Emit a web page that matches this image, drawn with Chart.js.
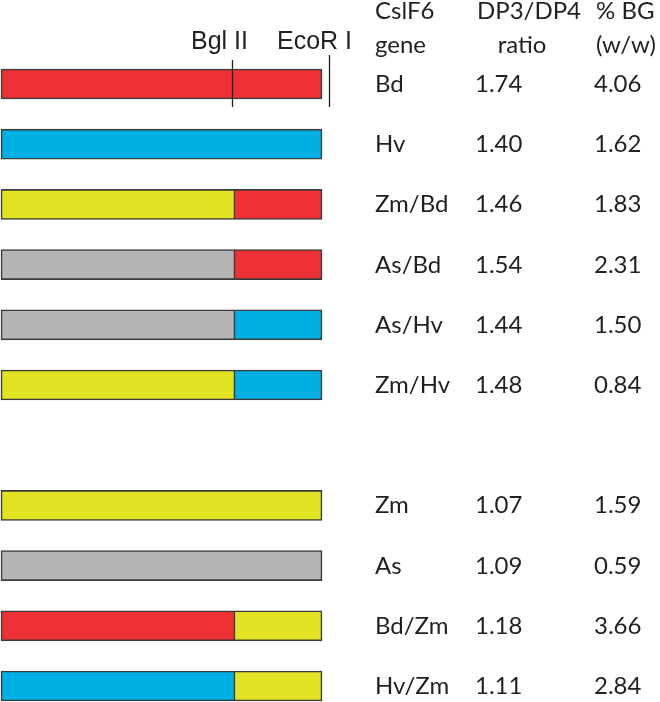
<!DOCTYPE html>
<html>
<head>
<meta charset="utf-8">
<script src="https://cdn.jsdelivr.net/npm/chart.js@4"></script>
<style>
  html, body { margin: 0; padding: 0; background: #fff; }
  canvas { display: block; }
</style>
</head>
<body>
<canvas id="chart" width="660" height="702"></canvas>
<script>
// rows, top to bottom ('' is the blank spacer row)
const genes  = ['Bd', 'Hv', 'Zm/Bd', 'As/Bd', 'As/Hv', 'Zm/Hv', '', 'Zm', 'As', 'Bd/Zm', 'Hv/Zm'];
const ratios = ['1.74', '1.40', '1.46', '1.54', '1.44', '1.48', '', '1.07', '1.09', '1.18', '1.11'];
const bgPct  = ['4.06', '1.62', '1.83', '2.31', '1.50', '0.84', '', '1.59', '0.59', '3.66', '2.84'];

// gene length in % : part before the Bgl II site and part after it
const leftPart  = [100, 100, 72.9, 72.9, 72.9, 72.9, null, 100, 100, 72.9, 72.9];
const rightPart = [null, null, 27.1, 27.1, 27.1, 27.1, null, null, null, 27.1, 27.1];

const leftSpecies  = ['Bd', 'Hv', 'Zm', 'As', 'As', 'Zm', '', 'Zm', 'As', 'Bd', 'Hv'];
const rightSpecies = ['', '', 'Bd', 'Bd', 'Hv', 'Hv', '', '', '', 'Zm', 'Zm'];

// restriction sites on the gene (%)
const siteNames = ['Bgl II', 'EcoR I'];
const sitePos   = [72.0, 102.2];

const speciesColor = { Bd: '#ee3135', Hv: '#00afe4', Zm: '#e2e423', As: '#b5b5b5', '': '#ffffff' };
const edge = '#3b3b3b';
const ink = '#231f20';

const tablePlugin = {
  id: 'table',
  afterDraw(chart) {
    const ctx = chart.ctx;
    const x = chart.scales.x, y = chart.scales.y;
    ctx.save();

    // restriction site marks on the first gene
    const y0 = y.getPixelForValue(0);
    ctx.strokeStyle = '#222';
    ctx.lineWidth = 1.3;
    ctx.beginPath();
    ctx.moveTo(Math.round(x.getPixelForValue(sitePos[0])) + 0.5, y0 - 24);
    ctx.lineTo(Math.round(x.getPixelForValue(sitePos[0])) + 0.5, y0 + 23);
    ctx.moveTo(Math.round(x.getPixelForValue(sitePos[1])) + 0.5, y0 - 29);
    ctx.lineTo(Math.round(x.getPixelForValue(sitePos[1])) + 0.5, y0 + 23);
    ctx.stroke();

    ctx.fillStyle = ink;
    ctx.font = '25px "Liberation Sans", Arial, sans-serif';
    ctx.textBaseline = 'alphabetic';
    ctx.textAlign = 'left';
    ctx.fillText(siteNames[0], 191, 49);
    ctx.fillText(siteNames[1], 277, 49);

    // table headers
    ctx.font = '24px Lato, sans-serif';
    ctx.fillText('CslF6', 375, 19);
    ctx.fillText('gene', 375, 53);
    ctx.fillText('DP3/DP4', 477, 19);
    ctx.fillText('% BG', 596, 19);
    ctx.fillText('(w/w)', 596, 53);
    ctx.textAlign = 'center';
    ctx.fillText('ratio', 522, 53);

    // table rows
    ctx.textAlign = 'left';
    genes.forEach((g, i) => {
      if (!g) return;
      const py = y.getPixelForValue(i) + 8;
      ctx.fillText(g, 375, py);
      ctx.fillText(ratios[i], 475, py);
      ctx.fillText(bgPct[i], 594, py);
    });
    ctx.restore();
  }
};

new Chart(document.getElementById('chart'), {
  type: 'bar',
  data: {
    labels: genes,
    datasets: [
      {
        data: leftPart,
        backgroundColor: leftSpecies.map(s => speciesColor[s]),
        borderColor: edge,
        borderWidth: 1.6,
        borderSkipped: false,
        barThickness: 30,
        clip: false
      },
      {
        data: rightPart,
        backgroundColor: rightSpecies.map(s => speciesColor[s]),
        borderColor: edge,
        borderWidth: { top: 1.6, right: 1.6, bottom: 1.6, left: 0 },
        borderSkipped: false,
        barThickness: 30,
        clip: false
      }
    ]
  },
  options: {
    indexAxis: 'y',
    responsive: false,
    animation: false,
    layout: { padding: { left: 1, right: 338, top: 84, bottom: 16 } },
    plugins: { legend: { display: false }, tooltip: { enabled: false } },
    scales: {
      x: { stacked: true, min: 0, max: 100, display: false },
      y: { stacked: true, offset: false, display: false }
    }
  },
  plugins: [tablePlugin]
});
</script>
</body>
</html>
